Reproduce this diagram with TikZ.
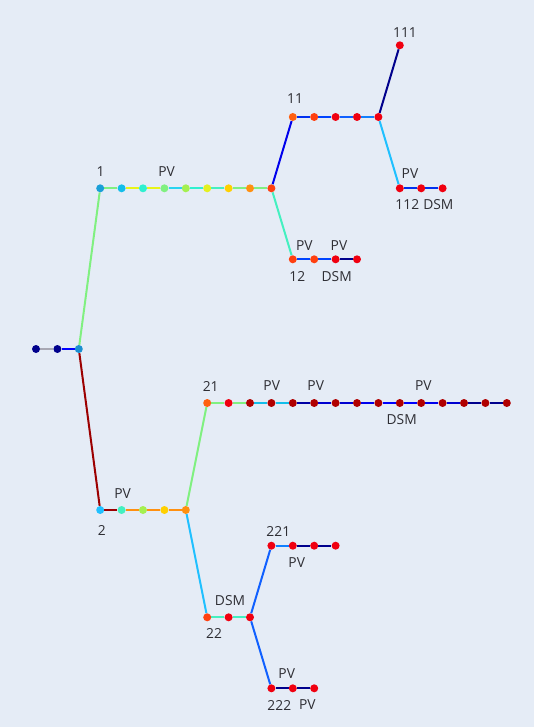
\documentclass[tikz,border=0pt]{standalone}
\usepackage{fontspec}
\setmainfont{Open Sans}
\usetikzlibrary{backgrounds}
\pgfdeclarelayer{edges}
\pgfsetlayers{background,edges,main}

% colour scale (jet-like)
\definecolor{bg}{HTML}{E5ECF6}
\definecolor{txt}{HTML}{2E2E34}
\definecolor{gray1}{HTML}{A8A8B4}
\definecolor{navy}{HTML}{00008C}
\definecolor{navyB}{HTML}{0000A4}
\definecolor{blueC}{HTML}{0000D0}
\definecolor{blueD}{HTML}{0000EC}
\definecolor{blueE}{HTML}{0000FF}
\definecolor{blueF}{HTML}{0030F0}
\definecolor{blueG}{HTML}{0044FF}
\definecolor{blueH}{HTML}{1060FF}
\definecolor{blueI}{HTML}{1080FF}
\definecolor{blueJ}{HTML}{1A8FD0}
\definecolor{skyA}{HTML}{1A9FD8}
\definecolor{skyB}{HTML}{14BEEA}
\definecolor{skyC}{HTML}{20C0FF}
\definecolor{cyanA}{HTML}{28D4F0}
\definecolor{turqA}{HTML}{30F0D0}
\definecolor{turqB}{HTML}{44F0C0}
\definecolor{greenA}{HTML}{80F080}
\definecolor{ygreen}{HTML}{A4F050}
\definecolor{yellowA}{HTML}{E4F020}
\definecolor{yellowB}{HTML}{E8F418}
\definecolor{gold}{HTML}{FFD000}
\definecolor{orangeA}{HTML}{FF9010}
\definecolor{orangeB}{HTML}{FF6010}
\definecolor{orred}{HTML}{FF4010}
\definecolor{redA}{HTML}{F00010}
\definecolor{dredA}{HTML}{9C0000}
\definecolor{dredB}{HTML}{B00000}

\tikzset{
  dot/.style={circle, inner sep=0pt, minimum size=8pt, draw=none, fill=#1},
  link/.style={line width=2pt, draw=#1},
  lbl/.style={inner sep=0pt, text=txt, font=\fontsize{13.8}{15}\selectfont}
}

\begin{document}
\begin{tikzpicture}[x=1pt, y=-1pt]
\begin{pgfonlayer}{background}
  \fill[bg] (0,0) rectangle (534,727);
\end{pgfonlayer}
\useasboundingbox (0,0) rectangle (534,727);

% feeder head
\node[dot=navy]  (r1) at (36,349) {};
\node[dot=navy]  (r2) at (57.4,349) {};
\node[dot=blueJ] (r3) at (78.8,349) {};

% branch 1
\foreach \n/\x/\c in {a1/100.2/skyA, a2/121.6/skyB, a3/143/turqA, a4/164.4/greenA,
  a5/185.8/ygreen, a6/207.2/yellowA, a7/228.6/gold, a8/250/orangeA, a9/271.4/orred}
  \node[dot=\c] (\n) at (\x,188.3) {};

% branch 11
\foreach \n/\x/\c in {b1/292.8/orangeB, b2/314.2/orred, b3/335.6/redA, b4/357/redA, b5/378.4/redA}
  \node[dot=\c] (\n) at (\x,117) {};

% branch 111
\node[dot=redA] (c1) at (399.8,45.3) {};

% branch 112
\foreach \n/\x in {d1/399.8, d2/421.2, d3/442.6}
  \node[dot=redA] (\n) at (\x,188.3) {};

% branch 12
\foreach \n/\x/\c in {e1/292.8/orred, e2/314.2/orred, e3/335.6/redA, e4/357/redA}
  \node[dot=\c] (\n) at (\x,259.3) {};

% branch 2
\foreach \n/\x/\c in {f1/100.2/skyC, f2/121.6/turqB, f3/143/ygreen, f4/164.4/gold, f5/185.8/orangeA}
  \node[dot=\c] (\n) at (\x,510) {};

% branch 21
\node[dot=orangeB] (g1) at (207.2,403) {};
\node[dot=redA]    (g2) at (228.6,403) {};
\foreach \n/\x in {g3/250, g4/271.4, g5/292.8, g6/314.2, g7/335.6, g8/357, g9/378.4,
  g10/399.8, g11/421.2, g12/442.6, g13/464, g14/485.4, g15/506.8}
  \node[dot=dredB] (\n) at (\x,403) {};

% branch 22
\foreach \n/\x/\c in {h1/207.2/orred, h2/228.6/redA, h3/250/redA}
  \node[dot=\c] (\n) at (\x,617.3) {};

% branch 221
\foreach \n/\x in {i1/271.4, i2/292.8, i3/314.2, i4/335.6}
  \node[dot=redA] (\n) at (\x,545.7) {};

% branch 222
\foreach \n/\x in {j1/271.4, j2/292.8, j3/314.2}
  \node[dot=redA] (\n) at (\x,688.3) {};

% line sections
\begin{pgfonlayer}{edges}
  \draw[link=gray1] (r1) -- (r2);
  \draw[link=blueE] (r2) -- (r3);
  \draw[link=greenA] (r3) -- (a1);
  \draw[link=dredA] (r3) -- (f1);

  \draw[link=greenA]  (a1) -- (a2);
  \draw[link=yellowB] (a2) -- (a3);
  \draw[link=yellowB] (a3) -- (a4);
  \draw[link=cyanA]   (a4) -- (a5);
  \draw[link=turqA]   (a5) -- (a6);
  \draw[link=turqB]   (a6) -- (a7);
  \draw[link=greenA]  (a7) -- (a8);
  \draw[link=greenA]  (a8) -- (a9);
  \draw[link=blueD]   (a9) -- (b1);
  \draw[link=turqB]   (a9) -- (e1);

  \draw[link=blueF] (b1) -- (b2);
  \draw[link=blueG] (b2) -- (b3);
  \draw[link=blueH] (b3) -- (b4);
  \draw[link=blueI] (b4) -- (b5);
  \draw[link=navy]  (b5) -- (c1);
  \draw[link=skyC]  (b5) -- (d1);

  \draw[link=blueF] (d1) -- (d2);
  \draw[link=blueF] (d2) -- (d3);

  \draw[link=blueG] (e1) -- (e2);
  \draw[link=blueG] (e2) -- (e3);
  \draw[link=navy]  (e3) -- (e4);

  \draw[link=dredA]   (f1) -- (f2);
  \draw[link=orangeA] (f2) -- (f3);
  \draw[link=orangeA] (f3) -- (f4);
  \draw[link=orangeA] (f4) -- (f5);
  \draw[link=greenA]  (f5) -- (g1);
  \draw[link=skyC]    (f5) -- (h1);

  \draw[link=greenA] (g1) -- (g2);
  \draw[link=greenA] (g2) -- (g3);
  \draw[link=skyB]   (g3) -- (g4);
  \draw[link=skyB]   (g4) -- (g5);
  \draw[link=navyB]  (g5) -- (g6);
  \draw[link=blueC]  (g6) -- (g7);
  \draw[link=blueC]  (g7) -- (g8);
  \draw[link=blueD]  (g8) -- (g9);
  \draw[link=blueE]  (g9) -- (g10);
  \draw[link=blueE]  (g10) -- (g11);
  \draw[link=blueD]  (g11) -- (g12);
  \draw[link=blueC]  (g12) -- (g13);
  \draw[link=navy]   (g13) -- (g14);
  \draw[link=navy]   (g14) -- (g15);

  \draw[link=turqB] (h1) -- (h2);
  \draw[link=turqB] (h2) -- (h3);
  \draw[link=blueH] (h3) -- (i1);
  \draw[link=blueH] (h3) -- (j1);

  \draw[link=blueI] (i1) -- (i2);
  \draw[link=navy]  (i2) -- (i3);
  \draw[link=navy]  (i3) -- (i4);

  \draw[link=navy] (j1) -- (j2);
  \draw[link=navy] (j2) -- (j3);
\end{pgfonlayer}

% labels
\node[lbl] (t1)    at (100.6,171.7) {1};
\node[lbl] (t1pv)  at (166.7,171.5) {PV};
\node[lbl] (t11)   at (295,99)      {11};
\node[lbl] (t111)  at (405,32.3)    {111};
\node[lbl] (t112p) at (410,174)     {PV};
\node[lbl] (t112)  at (407.3,204.3) {112};
\node[lbl] (t112d) at (438.3,204.3) {DSM};
\node[lbl] (t12pa) at (304.3,246)   {PV};
\node[lbl] (t12pb) at (339,246)     {PV};
\node[lbl] (t12)   at (297.3,276.7) {12};
\node[lbl] (t12d)  at (336.7,276.7) {DSM};
\node[lbl] (t21)   at (210.7,386.7) {21};
\node[lbl] (t21pa) at (271.7,385.7) {PV};
\node[lbl] (t21pb) at (315.7,385.7) {PV};
\node[lbl] (t21pc) at (423.3,385.7) {PV};
\node[lbl] (t21d)  at (401.7,419.3) {DSM};
\node[lbl] (t2pv)  at (122.7,493.3) {PV};
\node[lbl] (t2)    at (101.7,530)   {2};
\node[lbl] (t221)  at (278.3,531)   {221};
\node[lbl] (t221p) at (296.7,562.3) {PV};
\node[lbl] (t22d)  at (230,601)     {DSM};
\node[lbl] (t22)   at (214,633.3)   {22};
\node[lbl] (t222p) at (286.7,673.3) {PV};
\node[lbl] (t222)  at (279.3,705)   {222};
\node[lbl] (t222q) at (307.3,705)   {PV};
\end{tikzpicture}
\end{document}
